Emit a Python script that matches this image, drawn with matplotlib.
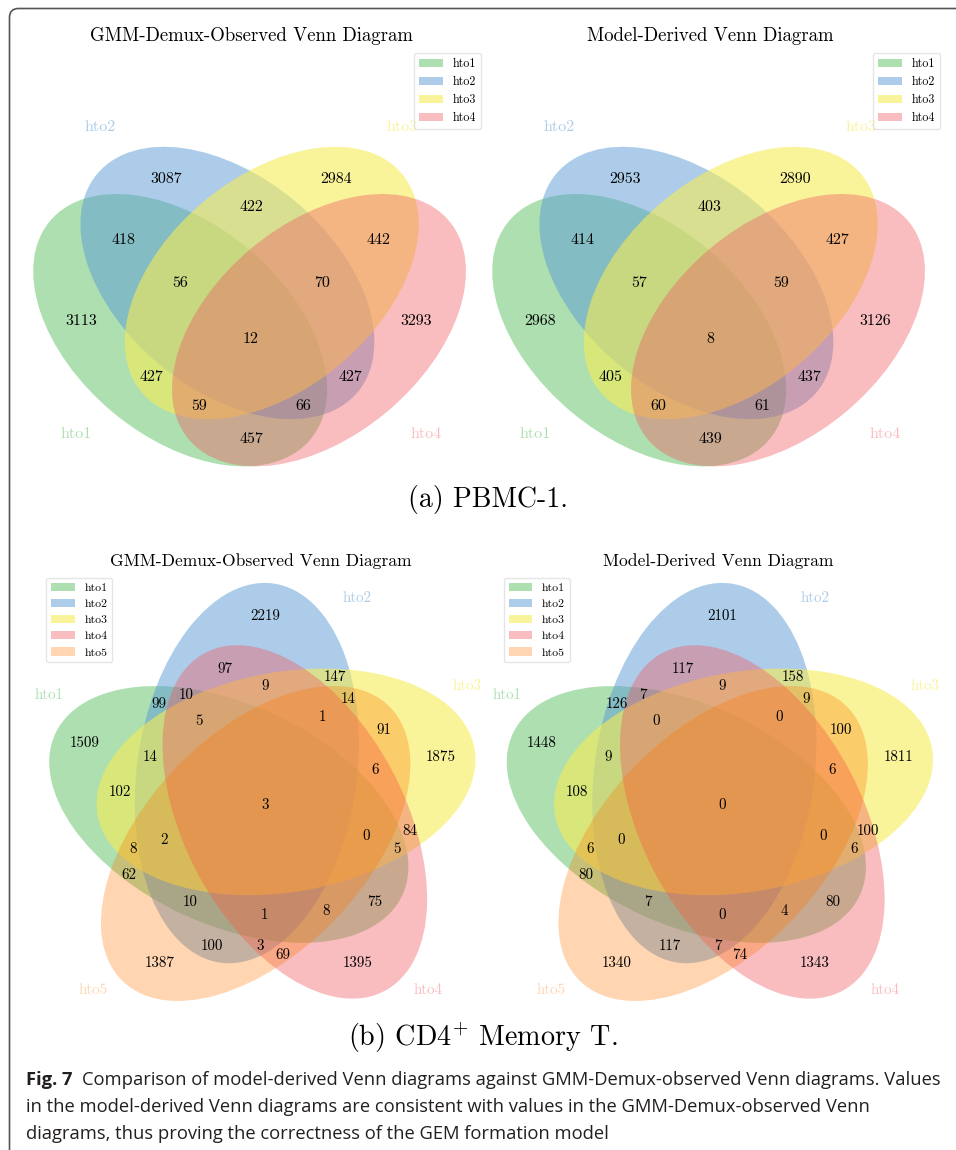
import matplotlib.pyplot as plt
from matplotlib.patches import Ellipse, FancyBboxPatch
from matplotlib.transforms import IdentityTransform

plt.rcParams["font.family"] = "cmr10"
plt.rcParams["mathtext.fontset"] = "cm"
plt.rcParams["axes.unicode_minus"] = False

# ---- counts per Venn region; code bits = membership in hto1..hton ----
names4 = ["hto1", "hto2", "hto3", "hto4"]
names5 = ["hto1", "hto2", "hto3", "hto4", "hto5"]

codes4 = ["0001", "0010", "0011", "0100", "0101", "0110", "0111", "1000",
          "1001", "1010", "1011", "1100", "1101", "1110", "1111"]
pbmc_observed = [3293, 2984, 442, 3087, 427, 422, 70, 3113,
                 457, 427, 59, 418, 66, 56, 12]
pbmc_model = [3126, 2890, 427, 2953, 437, 403, 59, 2968,
              439, 405, 60, 414, 61, 57, 8]

codes5 = ["00001", "00010", "00011", "00100", "00101", "00110", "00111",
          "01000", "01001", "01010", "01011", "01100", "01101", "01110",
          "01111", "10000", "10001", "10010", "10011", "10100", "10101",
          "10110", "10111", "11000", "11001", "11010", "11011", "11100",
          "11101", "11110", "11111"]
cd4_observed = [1387, 1395, 69, 1875, 91, 84, 6,
                2219, 100, 97, 3, 147, 14, 9,
                1, 1509, 62, 75, 8, 102, 8,
                5, 0, 99, 10, 10, 1, 14,
                2, 5, 3]
cd4_model = [1340, 1343, 74, 1811, 100, 100, 6,
             2101, 117, 117, 7, 158, 9, 9,
             0, 1448, 80, 80, 4, 108, 6,
             6, 0, 126, 7, 7, 0, 9,
             0, 0, 0]

# ---- styling / geometry of the diagrams ----
set_colors = [(92, 192, 98, 0.5), (90, 155, 212, 0.5), (246, 236, 86, 0.6),
              (241, 90, 96, 0.4), (255, 117, 0, 0.3)]
set_colors = [(r / 255, g / 255, b / 255, a) for r, g, b, a in set_colors]

# (x, y, width, height, angle)
shapes4 = [(0.350, 0.400, 0.72, 0.45, 140.0), (0.450, 0.500, 0.72, 0.45, 140.0),
           (0.544, 0.500, 0.72, 0.45, 40.0), (0.644, 0.400, 0.72, 0.45, 40.0)]
shapes5 = [(0.428, 0.449, 0.87, 0.50, 155.0), (0.469, 0.543, 0.87, 0.50, 82.0),
           (0.558, 0.523, 0.87, 0.50, 10.0), (0.578, 0.432, 0.87, 0.50, 118.0),
           (0.489, 0.383, 0.87, 0.50, 46.0)]

text_pos4 = {
    "0001": (0.85, 0.42), "0010": (0.68, 0.72), "0011": (0.77, 0.59),
    "0100": (0.32, 0.72), "0101": (0.71, 0.30), "0110": (0.50, 0.66),
    "0111": (0.65, 0.50), "1000": (0.14, 0.42), "1001": (0.50, 0.17),
    "1010": (0.29, 0.30), "1011": (0.39, 0.24), "1100": (0.23, 0.59),
    "1101": (0.61, 0.24), "1110": (0.35, 0.50), "1111": (0.50, 0.38),
}
name_pos4 = [(0.13, 0.18), (0.18, 0.83), (0.82, 0.83), (0.87, 0.18)]

text_pos5 = {
    "00001": (0.27, 0.11), "00010": (0.72, 0.11), "00011": (0.55, 0.13),
    "00100": (0.91, 0.58), "00101": (0.78, 0.64), "00110": (0.84, 0.41),
    "00111": (0.76, 0.55), "01000": (0.51, 0.90), "01001": (0.39, 0.15),
    "01010": (0.42, 0.78), "01011": (0.50, 0.15), "01100": (0.67, 0.76),
    "01101": (0.70, 0.71), "01110": (0.51, 0.74), "01111": (0.64, 0.67),
    "10000": (0.10, 0.61), "10001": (0.20, 0.31), "10010": (0.76, 0.25),
    "10011": (0.65, 0.23), "10100": (0.18, 0.50), "10101": (0.21, 0.37),
    "10110": (0.81, 0.37), "10111": (0.74, 0.40), "11000": (0.27, 0.70),
    "11001": (0.34, 0.25), "11010": (0.33, 0.72), "11011": (0.51, 0.22),
    "11100": (0.25, 0.58), "11101": (0.28, 0.39), "11110": (0.36, 0.66),
    "11111": (0.51, 0.47),
}
name_pos5 = [(0.02, 0.72), (0.72, 0.94), (0.97, 0.74), (0.88, 0.05), (0.12, 0.05)]


def draw_venn(ax, title, shapes, codes, values, text_pos, names, name_pos,
              fontsize, legend_loc, legend_size, title_size):
    ax.set_xlim(0, 1)
    ax.set_ylim(0, 1)
    ax.set_axis_off()
    handles = []
    for (x, y, w, h, a), c in zip(shapes, set_colors):
        e = Ellipse((x, y), w, h, angle=a, facecolor=c, edgecolor="none", linewidth=0)
        ax.add_patch(e)
        handles.append(e)
    for code, v in zip(codes, values):
        tx, ty = text_pos[code]
        ax.text(tx, ty, str(v), ha="center", va="center", fontsize=fontsize)
    for (tx, ty), n, c in zip(name_pos, names, set_colors):
        ax.text(tx, ty, n, color=c, ha="center", va="center", fontsize=fontsize)
    leg = ax.legend(handles, names, loc=legend_loc, fontsize=legend_size,
                    fancybox=True)
    leg.get_frame().set_alpha(0.5)
    ax.set_title(title, fontsize=title_size, pad=4.5)


W, H = 956, 1150
fig = plt.figure(figsize=(W / 100, H / 100), dpi=100)


def px_axes(x0, y_top, size):
    return fig.add_axes([x0 / W, 1 - (y_top + size) / H, size / W, size / H])


ax1 = px_axes(15, 47, 472)
ax2 = px_axes(474, 47, 472)
ax3 = px_axes(40.5, 572, 440)
ax4 = px_axes(498, 572, 440)

draw_venn(ax1, "GMM-Demux-Observed Venn Diagram", shapes4, codes4, pbmc_observed,
          text_pos4, names4, name_pos4, 11.5, "upper right", 8.7, 13.5)
draw_venn(ax2, "Model-Derived Venn Diagram", shapes4, codes4, pbmc_model,
          text_pos4, names4, name_pos4, 11.5, "upper right", 8.7, 13.5)
draw_venn(ax3, "GMM-Demux-Observed Venn Diagram", shapes5, codes5, cd4_observed,
          text_pos5, names5, name_pos5, 10.8, "upper left", 8.5, 12.6)
draw_venn(ax4, "Model-Derived Venn Diagram", shapes5, codes5, cd4_model,
          text_pos5, names5, name_pos5, 10.8, "upper left", 8.5, 12.6)

fig.text(488 / W, 1 - 500 / H, "(a) PBMC-1.", ha="center", va="center", fontsize=20)
fig.text(483 / W, 1 - 1038 / H, r"(b) CD4$^{+}$ Memory T.", ha="center",
         va="center", fontsize=20.3)

# outer frame: only the top and left edges fall inside the canvas
frame = FancyBboxPatch((9.5, -60), 1100, H - 8.5 + 60,
                       boxstyle="round,pad=0,rounding_size=9",
                       transform=IdentityTransform(), fill=False,
                       edgecolor="#555555", linewidth=1.2)
fig.add_artist(frame)

# figure caption
cap_font = ["Open Sans", "DejaVu Sans"]
cap_size = 13.2
cap_color = "#231f20"
lines = [
    "Comparison of model-derived Venn diagrams against GMM-Demux-observed Venn diagrams. Values",
    "in the model-derived Venn diagrams are consistent with values in the GMM-Demux-observed Venn",
    "diagrams, thus proving the correctness of the GEM formation model",
]
baselines = [1085, 1112, 1139]
renderer = fig.canvas.get_renderer()
lab = fig.text(26 / W, 1 - baselines[0] / H, "Fig. 7", family=cap_font,
               fontweight="bold", fontsize=cap_size, color=cap_color, va="baseline")
x_after = lab.get_window_extent(renderer).x1 + 10
fig.text(x_after / W, 1 - baselines[0] / H, lines[0], family=cap_font,
         fontsize=cap_size, color=cap_color, va="baseline")
for line, yb in zip(lines[1:], baselines[1:]):
    fig.text(26 / W, 1 - yb / H, line, family=cap_font, fontsize=cap_size,
             color=cap_color, va="baseline")

fig.savefig("out.png", dpi=100)
